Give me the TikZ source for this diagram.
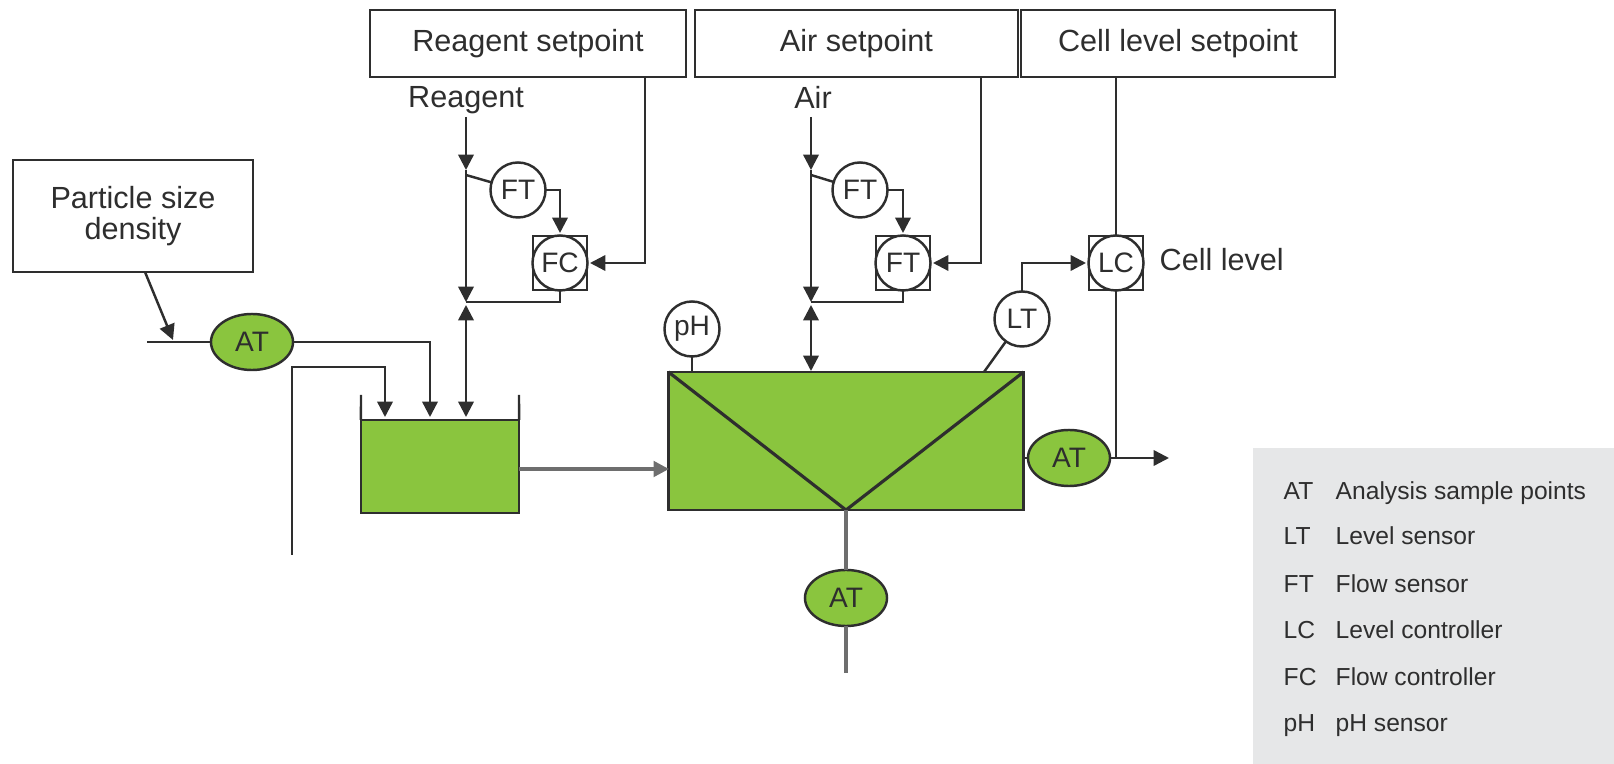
\documentclass[tikz,border=0pt]{standalone}
\usepackage{fontspec}
\setmainfont{Liberation Sans}
\usetikzlibrary{shapes.geometric,arrows.meta}
\definecolor{cellgreen}{HTML}{8AC53E}
\definecolor{inkline}{HTML}{2E2E2E}
\definecolor{pipegrey}{HTML}{6E6E6E}
\definecolor{legendgrey}{HTML}{E6E7E8}
\tikzset{
  >={Triangle[length=4.4pt,width=4.4pt]},
  lineblk/.style={draw=inkline,line width=0.7pt},
  pipeline/.style={draw=pipegrey,line width=1pt},
  gapto/.style={shorten >=0.03cm},
  setbox/.style={draw=inkline,line width=0.6pt,fill=white,outer sep=0pt,font=\fontsize{8.7}{8.8}\selectfont,align=center,text=inkline},
  sensor/.style={circle,draw=inkline,line width=0.7pt,fill=white,outer sep=0pt,minimum size=0.55cm,inner sep=0pt,font=\fontsize{8}{10}\selectfont,text=inkline},
  ctrlbox/.style={rectangle,draw=inkline,line width=0.6pt,fill=white,outer sep=0pt,minimum size=0.54cm,inner sep=0pt},
  sample/.style={ellipse,draw=inkline,line width=0.7pt,fill=cellgreen,outer sep=0pt,minimum width=0.82cm,minimum height=0.56cm,inner sep=0pt,font=\fontsize{8}{10}\selectfont,text=inkline},
  vessel/.style={rectangle,draw=inkline,line width=0.8pt,fill=cellgreen,outer sep=0pt,inner sep=0pt},
  streamtxt/.style={font=\fontsize{8.7}{10}\selectfont,text=inkline},
  legtxt/.style={anchor=base west,inner sep=0pt,font=\fontsize{7}{9}\selectfont,text=inkline}
}
\begin{document}
\begin{tikzpicture}[x=0.01cm,y=-0.01cm]
    \useasboundingbox (0,0) rectangle (1614,764);
    \node[fill=legendgrey,minimum width=3.61cm,minimum height=3.16cm,anchor=south east,inner sep=0pt,outer sep=0pt] (legend) at (1614,764) {};

    \node[setbox,minimum width=3.15cm,minimum height=0.67cm] (rsp) at (528,43.5) {Reagent setpoint};
    \node[setbox,minimum width=3.23cm,minimum height=0.67cm] (asp) at (856.5,43.5) {Air setpoint};
    \node[setbox,minimum width=3.14cm,minimum height=0.67cm] (csp) at (1178,43.5) {Cell level setpoint};
    \node[setbox,minimum width=2.4cm,minimum height=1.12cm] (psd) at (133,216) {Particle size\\density};

    \node[streamtxt] (rlabel) at (466,100) {Reagent};
    \node[streamtxt] (alabel) at (813,97) {Air};
    \node[streamtxt,anchor=west,inner sep=0pt] (clabel) at (1159,260) {Cell level};

    \node[vessel,minimum width=1.58cm,minimum height=0.93cm] (tank) at (440,466.5) {};
    \node[vessel,minimum width=3.55cm,minimum height=1.38cm] (cell) at (846,441) {};

    \node[sample] (atl) at (252,342) {AT};
    \node[sample] (atr) at (1069,458) {AT};
    \node[sample] (atb) at (846,598) {AT};

    \node[sensor] (ftr) at (518,190) {FT};
    \node[ctrlbox] (fcbox) at (560,263) {};
    \node[sensor] (fc) at (560,263) {FC};
    \node[sensor] (fta) at (860,190) {FT};
    \node[ctrlbox] (ftbox) at (903,263) {};
    \node[sensor] (ftc) at (903,263) {FT};
    \node[ctrlbox] (lcbox) at (1116,263) {};
    \node[sensor] (lc) at (1116,263) {LC};
    \node[sensor] (lt) at (1022,319) {LT};
    \node[sensor] (ph) at (692,329) {pH};

    \coordinate (rtop) at (466,117);
    \coordinate (rtip) at (466,170);
    \coordinate (rbranch) at (466,175);
    \coordinate (rjoin) at (466,302);
    \coordinate (rup) at (466,305);
    \coordinate (rin) at (466,417);
    \coordinate (rdrop) at (645,77);
    \coordinate (atop) at (811,117);
    \coordinate (atip) at (811,170);
    \coordinate (abranch) at (811,175);
    \coordinate (ajoin) at (811,302);
    \coordinate (aup) at (811,305);
    \coordinate (ain) at (811,371);
    \coordinate (adrop) at (981,77);
    \coordinate (psout) at (145,272);
    \coordinate (pstip) at (173,340);
    \coordinate (feed) at (147,342);
    \coordinate (in1) at (430,417);
    \coordinate (in2) at (385,417);
    \coordinate (sfeed) at (292,555);
    \coordinate (scorner) at (292,367);
    \coordinate (wallL) at (361,395);
    \coordinate (wallR) at (519,395);
    \coordinate (ltin) at (984,372);
    \coordinate (outj) at (1116,458);
    \coordinate (outtip) at (1169,458);
    \coordinate (drain) at (846,673);
    \coordinate (tankout) at (519,469);
    \coordinate (cellin) at (669,469);

    \draw[lineblk] (tank.north west) -- (wallL);
    \draw[lineblk] (tank.north east) -- (wallR);
    \draw[lineblk,line width=0.9pt] (cell.north west) -- (cell.south) -- (cell.north east);

    \draw[lineblk,->] (psout) -- (pstip);
    \draw[lineblk] (feed) -- (atl.west);
    \draw[lineblk,->] (atl.east) -| (in1);
    \draw[lineblk,->] (sfeed) -- (scorner) -| (in2);
    \draw[pipeline,->] (tankout) -- (cellin);

    \draw[lineblk,->] (rtop) -- (rtip);
    \draw[lineblk,->] (rtip) -- (rjoin);
    \draw[lineblk,<->] (rup) -- (rin);
    \draw[lineblk] (rbranch) -- (ftr);
    \draw[lineblk,gapto,->] (ftr.east) -| (fcbox.north);
    \draw[lineblk,gapto,->] (rdrop) |- (fcbox.east);
    \draw[lineblk] (fcbox.south) |- (rjoin);

    \draw[lineblk,->] (atop) -- (atip);
    \draw[lineblk,->] (atip) -- (ajoin);
    \draw[lineblk,<->] (aup) -- (ain);
    \draw[lineblk] (abranch) -- (fta);
    \draw[lineblk,gapto,->] (fta.east) -| (ftbox.north);
    \draw[lineblk,gapto,->] (adrop) |- (ftbox.east);
    \draw[lineblk] (ftbox.south) |- (ajoin);

    \draw[lineblk] (ph.south) -- (ph.south |- cell.north);
    \draw[lineblk] (lt) -- (ltin);
    \draw[lineblk,gapto,->] (lt.north) |- (lcbox.west);
    \draw[lineblk] (lcbox.north) -- (lcbox.north |- csp.south);
    \draw[lineblk] (lcbox.south) -- (outj);
    \draw[lineblk] (cell.east |- atr) -- (atr.west);
    \draw[lineblk,->] (atr.east) -- (outtip);
    \draw[pipeline] (cell.south) -- (atb.north);
    \draw[pipeline] (atb.south) -- (drain);

    \node[legtxt] (kat) at (1283,500) {AT};
    \node[legtxt] (kati) at (1335,500) {Analysis sample points};
    \node[legtxt] (klt) at (1283,545) {LT};
    \node[legtxt] (klti) at (1335,545) {Level sensor};
    \node[legtxt] (kft) at (1283,593) {FT};
    \node[legtxt] (kfti) at (1335,593) {Flow sensor};
    \node[legtxt] (klc) at (1283,639) {LC};
    \node[legtxt] (klci) at (1335,639) {Level controller};
    \node[legtxt] (kfc) at (1283,686) {FC};
    \node[legtxt] (kfci) at (1335,686) {Flow controller};
    \node[legtxt] (kph) at (1283,732) {pH};
    \node[legtxt] (kphi) at (1335,732) {pH sensor};
\end{tikzpicture}
\end{document}
